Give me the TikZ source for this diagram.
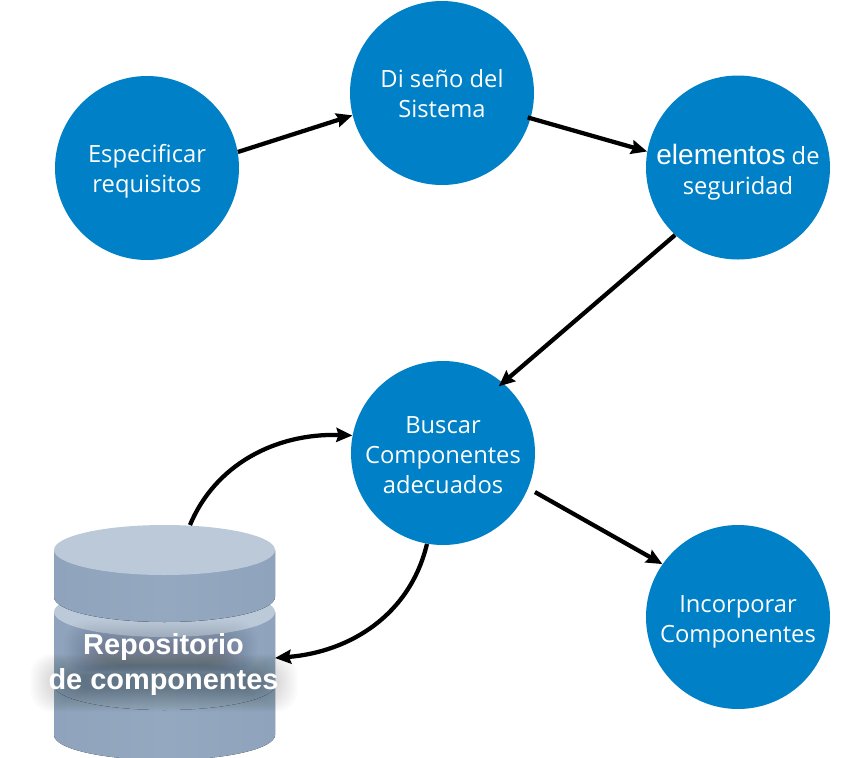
\documentclass[tikz,border=0pt]{standalone}
\usepackage{fontspec}
\setmainfont{Open Sans}
\newfontfamily\arialfont{Liberation Sans}
\usetikzlibrary{arrows.meta}
\definecolor{disc}{HTML}{0080C6}
\definecolor{cyltop}{HTML}{BCC9D8}
\definecolor{cylside}{HTML}{94A8C0}
\definecolor{cylsidedark}{HTML}{8FA3BC}
\tikzset{
  stepcircle/.style={circle,fill=disc,draw=none,minimum size=138pt,inner sep=0pt},
  steptext/.style={text=white,align=center,yshift=-1.9pt,inner sep=0pt,
    font=\fontsize{17.8}{22.5}\selectfont},
  flow/.style={draw=black,line width=3.2pt,-{Stealth[length=12pt,width=10.5pt,inset=1.5pt]}},
  repotext/.style={text=white,align=center,font=\arialfont\bfseries\fontsize{21.7}{26.25}\selectfont}
}
% #1 top ellipse centre y, #2 side height
\newcommand{\cyldisc}[2]{%
  \fill[left color=cylsidedark,right color=cylsidedark,middle color=cylside]
    (54,#1) -- (54,#1+#2) arc[start angle=180,end angle=0,x radius=110.5,y radius=25]
    -- (275,#1) -- cycle;
  \fill[cyltop] (164.5,#1) ellipse[x radius=110.5,y radius=25];
}
\begin{document}
\begin{tikzpicture}[x=0.75pt,y=-0.75pt]
\useasboundingbox (0,0) rectangle (844,758);
% repository
\cyldisc{685}{50}
\cyldisc{612}{73}
\cyldisc{550}{47}
% glow behind the repository label
\foreach \g in {0,...,23}{
  \fill[black,opacity=0.009,rounded corners=16pt]
    (64+\g*1.6,620+\g*1.2) rectangle (258-\g*1.6,672-\g*0.3);
  \fill[black,opacity=0.010,rounded corners=16pt]
    (30+\g*1.7,654+\g*0.9) rectangle (298-\g*1.7,712-\g*1.0);
}
\node[repotext] (repo) at (163.5,665) {Repositorio\\de componentes};
% circles
\node[stepcircle,label={[steptext,yshift=-0.75pt]center:{Especificar\\requisitos}}] (spec) at (147,168) {};
\node[stepcircle,label={[steptext,yshift=1.5pt]center:{Di seño del\\Sistema}}] (dis) at (442,93) {};
\node[stepcircle,label={[steptext,yshift=-1.5pt]center:{{\arialfont\fontsize{21}{22.5}\selectfont elementos} de\\seguridad}}] (seg) at (738,167.5) {};
\node[stepcircle,label={[steptext]center:{Buscar\\Componentes\\adecuados}}] (bus) at (443,453) {};
\node[stepcircle,label={[steptext,yshift=-1.5pt]center:{Incorporar\\Componentes}}] (inc) at (738,617) {};
\coordinate (repoOut) at (190,525);
\coordinate (repoIn) at (275,658);
% connectors
\draw[flow] (spec.10) -- (dis.194);
\draw[flow] ([shift={(-3,-1)}]dis.344) -- (seg.170);
\draw[flow] (seg.227) -- ([shift={(-3.5,4)}]bus.50);
\draw[flow] ([shift={(7,3)}]bus.-23) -- (inc.145);
\draw[flow] (repoOut) .. controls (215,465) and (275,433) .. (bus.169);
\draw[flow] (bus.260) .. controls (410,615) and (350,652) .. (repoIn);
\end{tikzpicture}
\end{document}
